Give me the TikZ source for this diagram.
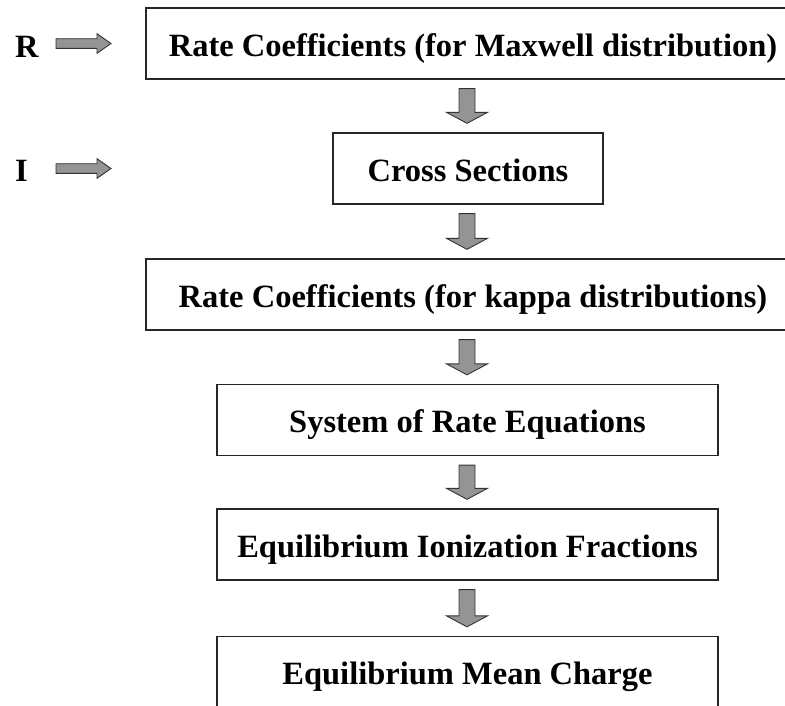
\documentclass[tikz,border=0pt]{standalone}
\usepackage{fontspec}
\setmainfont{Liberation Serif}
\usepackage{tikz}
\usetikzlibrary{calc}
\tikzset{>=latex}
\tikzstyle{stage}=[draw=black!85,line width=1.3pt,minimum height=71pt,inner sep=0pt,font=\fontsize{32.5}{39}\selectfont\bfseries,text height=25.5pt,text depth=0pt]
\tikzstyle{tag}=[anchor=west,inner sep=0pt,font=\fontsize{32.5}{39}\selectfont\bfseries,text height=21.5pt,text depth=0pt]
\tikzstyle{flow}=[draw=black!80,fill=black!42,line width=0.9pt,line join=miter]
% block arrows between the stages
\newcommand{\flowdown}[2]{%
  \draw[flow] ($(spine |- #1.south)+(-8,9)$) -- ($(spine |- #2.north)+(-8,-20)$) -- ($(spine |- #2.north)+(-20.5,-20)$) --
    ($(spine |- #2.north)+(0,-9)$) -- ($(spine |- #2.north)+(20.5,-20)$) -- ($(spine |- #2.north)+(8,-20)$) --
    ($(spine |- #1.south)+(8,9)$) -- cycle;}
\newcommand{\flowright}[1]{%
  \draw[flow] ($(inlet |- #1.west)+(0,-4.8)$) -- ($(inlet |- #1.west)+(41,-4.8)$) -- ($(inlet |- #1.west)+(41,-9.8)$) --
    ($(inlet |- #1.west)+(55,0)$) -- ($(inlet |- #1.west)+(41,9.8)$) -- ($(inlet |- #1.west)+(41,4.8)$) --
    ($(inlet |- #1.west)+(0,4.8)$) -- cycle;}

\begin{document}
\begin{tikzpicture}[x=1pt,y=-1pt]
	
	\clip (0,0) rectangle (785,705); % page, boxes run off it
	\coordinate (spine) at (467,0);
	\coordinate (inlet) at (56,0);
	
	\node[stage,minimum width=654pt] (rmax) at (473,43.5) {Rate Coefficients (for Maxwell distribution)};
	\node[stage,minimum width=270pt] (cross) at (468,168.5) {Cross Sections};
	\node[stage,minimum width=654pt] (rkappa) at (473,294.5) {Rate Coefficients (for kappa distributions)};
	\node[stage,minimum width=501pt] (rateeq) at (467.5,420) {System of Rate Equations};
	\node[stage,minimum width=501pt] (ionfrac) at (467.5,544.5) {Equilibrium Ionization Fractions};
	\node[stage,minimum width=501pt] (meanq) at (467.5,672) {Equilibrium Mean Charge};
	
	\node[tag] (rtag) at (15,46.5) {R};
	\node[tag] (itag) at (15,171) {I};
	
	\flowright{rmax}
	\flowright{cross}
	
	\flowdown{rmax}{cross}
	\flowdown{cross}{rkappa}
	\flowdown{rkappa}{rateeq}
	\flowdown{rateeq}{ionfrac}
	\flowdown{ionfrac}{meanq}
	
\end{tikzpicture}
\end{document}
